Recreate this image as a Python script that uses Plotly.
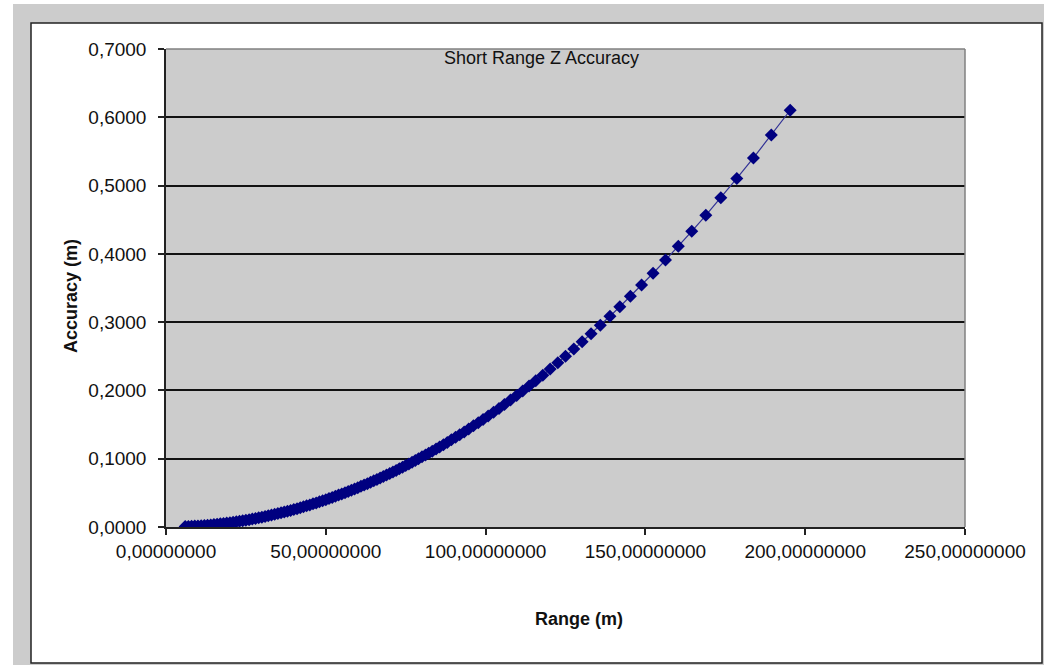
import plotly.graph_objects as go

# Range (m) values
range_m = [6, 7, 8, 9, 10, 11, 12, 13, 14, 15, 16, 17, 18, 19, 20, 21, 22, 23, 24, 25,
           26, 27, 28, 29, 30, 31, 32, 33, 34, 35, 36, 37, 38, 39, 40, 41, 42, 43, 44, 45,
           46, 47, 48, 49, 50, 51, 52, 53, 54, 55, 56, 57, 58, 59, 60, 61, 62, 63, 64, 65,
           66, 67, 68, 69, 70, 71, 72, 73, 74, 75, 76, 77, 78, 79,
           80.1, 81.2, 82.2, 83.3, 84.5, 85.6, 86.8, 88.0, 89.3, 90.6, 91.9, 93.3, 94.7,
           96.2, 97.7, 99.2, 100.8, 102.5, 104.2, 105.9, 107.8, 109.7, 111.6, 113.6, 115.7,
           117.9, 120.2, 122.6, 125.0, 127.6, 130.2, 133.0, 135.9, 138.9, 142.0, 145.3,
           148.8, 152.4, 156.3, 160.3, 164.5, 168.9, 173.6, 178.6, 183.8, 189.4, 195.3]

# Accuracy (m) values
accuracy_m = [0.0006, 0.0008, 0.0010, 0.0013, 0.0016, 0.0019, 0.0023, 0.0027, 0.0031, 0.0036,
              0.0041, 0.0046, 0.0052, 0.0058, 0.0064, 0.0071, 0.0077, 0.0085, 0.0092, 0.0100,
              0.0108, 0.0117, 0.0125, 0.0135, 0.0144, 0.0154, 0.0164, 0.0174, 0.0185, 0.0196,
              0.0207, 0.0219, 0.0231, 0.0243, 0.0256, 0.0269, 0.0282, 0.0296, 0.0310, 0.0324,
              0.0339, 0.0353, 0.0369, 0.0384, 0.0400, 0.0416, 0.0433, 0.0449, 0.0467, 0.0484,
              0.0502, 0.0520, 0.0538, 0.0557, 0.0576, 0.0595, 0.0615, 0.0635, 0.0655, 0.0676,
              0.0697, 0.0718, 0.0740, 0.0762, 0.0784, 0.0807, 0.0829, 0.0853, 0.0876, 0.0900,
              0.0924, 0.0949, 0.0973, 0.0999,
              0.1027, 0.1055, 0.1081, 0.1110, 0.1142, 0.1172, 0.1205, 0.1239, 0.1276, 0.1313,
              0.1351, 0.1393, 0.1435, 0.1481, 0.1527, 0.1575, 0.1626, 0.1681, 0.1737, 0.1794,
              0.1859, 0.1925, 0.1993, 0.2065, 0.2142, 0.2224, 0.2312, 0.2405, 0.2500, 0.2605,
              0.2712, 0.2830, 0.2955, 0.3087, 0.3226, 0.3378, 0.3543, 0.3716, 0.3909, 0.4111,
              0.4330, 0.4564, 0.4822, 0.5104, 0.5405, 0.5740, 0.6103]

chart_title = "Short Range Z Accuracy"
x_title = "Range (m)"
y_title = "Accuracy (m)"

W, H = 1044, 665
L, R, T, B = 166, 965, 49, 527


def px(x):
    return (x - L) / (R - L)


def py(y):
    return (B - y) / (B - T)


FONT = "Liberation Sans, Arial, sans-serif"
GRAY = "#cccccc"

fig = go.Figure()
fig.add_trace(go.Scatter(
    x=range_m, y=accuracy_m, mode="lines+markers",
    line=dict(color="rgb(50,50,150)", width=1.2),
    marker=dict(symbol="diamond", size=10, color="#000080",
                line=dict(width=0)),
    hoverinfo="x+y",
))

shapes = [
    # outer gray frame
    dict(type="rect", xref="paper", yref="paper", layer="below",
         x0=px(13), x1=px(1044), y0=py(665), y1=py(4),
         fillcolor=GRAY, line=dict(width=0)),
    # white chart area with black border
    dict(type="rect", xref="paper", yref="paper", layer="below",
         x0=px(31), x1=px(1042), y0=py(663), y1=py(23),
         fillcolor="white", line=dict(color="#222222", width=1.5)),
    # gray plot area
    dict(type="rect", xref="paper", yref="paper", layer="below",
         x0=0, x1=1, y0=0, y1=1,
         fillcolor=GRAY, line=dict(width=0)),
    # plot area top / right border (gray)
    dict(type="line", xref="paper", yref="paper", x0=0, x1=1, y0=1, y1=1,
         line=dict(color="#808080", width=1.5)),
    dict(type="line", xref="paper", yref="paper", x0=1, x1=1, y0=0, y1=1,
         line=dict(color="#808080", width=1.5)),
]

annotations = [
    dict(text=chart_title, xref="paper", yref="paper", x=px(541), y=py(58),
         xanchor="center", yanchor="middle", showarrow=False,
         font=dict(family=FONT, size=18, color="#111111")),
    dict(text="<b>" + x_title + "</b>", xref="paper", yref="paper", x=px(579), y=py(619),
         xanchor="center", yanchor="middle", showarrow=False,
         font=dict(family=FONT, size=18, color="#111111")),
    dict(text="<b>" + y_title + "</b>", xref="paper", yref="paper", x=px(71), y=py(296),
         xanchor="center", yanchor="middle", showarrow=False, textangle=-90,
         font=dict(family=FONT, size=18, color="#111111")),
]

fig.update_layout(
    width=W, height=H,
    margin=dict(l=L, r=W - R, t=T, b=H - B, pad=0),
    paper_bgcolor="white", plot_bgcolor=GRAY,
    separators=", ",
    showlegend=False,
    font=dict(family=FONT, size=19, color="#111111"),
    shapes=shapes, annotations=annotations,
    xaxis=dict(range=[0, 250], tick0=0, dtick=50, tickformat=".8f",
               showgrid=False, zeroline=False, showline=True,
               linecolor="#222222", linewidth=1.5,
               ticks="outside", ticklen=6, tickcolor="#222222", tickwidth=1.5),
    yaxis=dict(range=[0, 0.7], tick0=0, dtick=0.1, tickformat=".4f",
               showgrid=True, gridcolor="#111111", gridwidth=1.5,
               zeroline=False, showline=True,
               linecolor="#222222", linewidth=1.5,
               ticks="outside", ticklen=6, tickcolor="#222222", tickwidth=1.5,
               ticklabelstandoff=8),
)

fig.write_html("out.html", config={"displayModeBar": False},
               post_script="document.body.style.margin='0';")
